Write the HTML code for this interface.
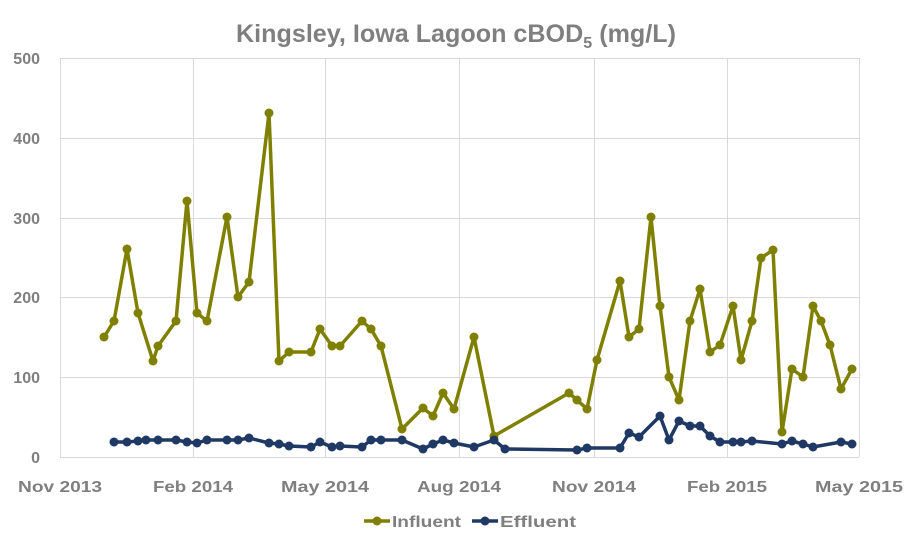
<!DOCTYPE html>
<html><head><meta charset="utf-8"><style>
html,body{margin:0;padding:0;background:#fff;}
svg text{font-family:"Liberation Sans",sans-serif;font-weight:bold;fill:#7f7f7f;}
</style></head><body>
<svg width="912" height="544" viewBox="0 0 912 544" xmlns="http://www.w3.org/2000/svg">
<rect width="912" height="544" fill="#fff"/>
<g stroke="#d9d9d9" stroke-width="1">
<line x1="60" y1="58.5" x2="859" y2="58.5"/>
<line x1="60" y1="138.5" x2="859" y2="138.5"/>
<line x1="60" y1="218.5" x2="859" y2="218.5"/>
<line x1="60" y1="297.5" x2="859" y2="297.5"/>
<line x1="60" y1="377.5" x2="859" y2="377.5"/>
<line x1="60" y1="457.5" x2="859" y2="457.5"/>
<line x1="60.5" y1="58" x2="60.5" y2="457"/>
<line x1="193.5" y1="58" x2="193.5" y2="457"/>
<line x1="325.5" y1="58" x2="325.5" y2="457"/>
<line x1="459.5" y1="58" x2="459.5" y2="457"/>
<line x1="594.5" y1="58" x2="594.5" y2="457"/>
<line x1="727.5" y1="58" x2="727.5" y2="457"/>
<line x1="859.5" y1="58" x2="859.5" y2="457"/>
</g>
<text x="456" y="42" font-size="25" text-anchor="middle" textLength="440" lengthAdjust="spacingAndGlyphs">Kingsley, Iowa Lagoon cBOD<tspan font-size="16" dy="6">5</tspan><tspan dy="-6"> (mg/L)</tspan></text>
<g font-size="16" text-anchor="end">
<text x="40" y="64">500</text><text x="40" y="144">400</text><text x="40" y="224">300</text>
<text x="40" y="303">200</text><text x="40" y="383">100</text><text x="40" y="463">0</text>
</g>
<g font-size="16" text-anchor="middle">
<text x="60" y="492" textLength="84" lengthAdjust="spacingAndGlyphs">Nov 2013</text>
<text x="193" y="492" textLength="80" lengthAdjust="spacingAndGlyphs">Feb 2014</text>
<text x="325" y="492" textLength="88" lengthAdjust="spacingAndGlyphs">May 2014</text>
<text x="459" y="492" textLength="84" lengthAdjust="spacingAndGlyphs">Aug 2014</text>
<text x="594" y="492" textLength="84" lengthAdjust="spacingAndGlyphs">Nov 2014</text>
<text x="727" y="492" textLength="80" lengthAdjust="spacingAndGlyphs">Feb 2015</text>
<text x="859" y="492" textLength="88" lengthAdjust="spacingAndGlyphs">May 2015</text>
</g>
<polyline fill="none" stroke="#808000" stroke-width="3.5" stroke-linejoin="round" points="104,337 114,321 127,249 138,313 153,361 158,346 176,321 187,201 197,313 207,321 227,217 238,297 249,282 269,113 279,361 289,352 311,352 320,329 332,346 340,346 362,321 371,329 381,346 402,429 423,408 433,416 443,393 454,409 474,337 494,436 569,393 577,400 587,409 597,360 620,281 629,337 639,329 651,217 660,306 669,377 679,400 690,321 700,289 710,352 720,345 733,306 741,360 752,321 761,258 773,250 782,432 792,369 803,377 813,306 821,321 830,345 841,389 852,369"/>
<g fill="#808000" id="inf">
<circle cx="104" cy="337" r="4.5"/><circle cx="114" cy="321" r="4.5"/><circle cx="127" cy="249" r="4.5"/><circle cx="138" cy="313" r="4.5"/><circle cx="153" cy="361" r="4.5"/><circle cx="158" cy="346" r="4.5"/><circle cx="176" cy="321" r="4.5"/><circle cx="187" cy="201" r="4.5"/><circle cx="197" cy="313" r="4.5"/><circle cx="207" cy="321" r="4.5"/><circle cx="227" cy="217" r="4.5"/><circle cx="238" cy="297" r="4.5"/><circle cx="249" cy="282" r="4.5"/><circle cx="269" cy="113" r="4.5"/><circle cx="279" cy="361" r="4.5"/><circle cx="289" cy="352" r="4.5"/><circle cx="311" cy="352" r="4.5"/><circle cx="320" cy="329" r="4.5"/><circle cx="332" cy="346" r="4.5"/><circle cx="340" cy="346" r="4.5"/><circle cx="362" cy="321" r="4.5"/><circle cx="371" cy="329" r="4.5"/><circle cx="381" cy="346" r="4.5"/><circle cx="402" cy="429" r="4.5"/><circle cx="423" cy="408" r="4.5"/><circle cx="433" cy="416" r="4.5"/><circle cx="443" cy="393" r="4.5"/><circle cx="454" cy="409" r="4.5"/><circle cx="474" cy="337" r="4.5"/><circle cx="494" cy="436" r="4.5"/><circle cx="569" cy="393" r="4.5"/><circle cx="577" cy="400" r="4.5"/><circle cx="587" cy="409" r="4.5"/><circle cx="597" cy="360" r="4.5"/><circle cx="620" cy="281" r="4.5"/><circle cx="629" cy="337" r="4.5"/><circle cx="639" cy="329" r="4.5"/><circle cx="651" cy="217" r="4.5"/><circle cx="660" cy="306" r="4.5"/><circle cx="669" cy="377" r="4.5"/><circle cx="679" cy="400" r="4.5"/><circle cx="690" cy="321" r="4.5"/><circle cx="700" cy="289" r="4.5"/><circle cx="710" cy="352" r="4.5"/><circle cx="720" cy="345" r="4.5"/><circle cx="733" cy="306" r="4.5"/><circle cx="741" cy="360" r="4.5"/><circle cx="752" cy="321" r="4.5"/><circle cx="761" cy="258" r="4.5"/><circle cx="773" cy="250" r="4.5"/><circle cx="782" cy="432" r="4.5"/><circle cx="792" cy="369" r="4.5"/><circle cx="803" cy="377" r="4.5"/><circle cx="813" cy="306" r="4.5"/><circle cx="821" cy="321" r="4.5"/><circle cx="830" cy="345" r="4.5"/><circle cx="841" cy="389" r="4.5"/><circle cx="852" cy="369" r="4.5"/>
</g>
<polyline fill="none" stroke="#1f3864" stroke-width="3.5" stroke-linejoin="round" points="114,442 127,442 138,441 146,440 158,440 176,440 187,442 197,443 207,440 227,440 238,440 249,438 269,443 279,444 289,446 311,447 320,442 332,447 340,446 362,447 371,440 381,440 402,440 423,449 433,444 443,440 454,443 474,447 494,440 505,449 577,450 587,448 620,448 629,433 639,437 660,416 669,440 679,421 690,426 700,426 710,436 720,442 733,442 741,442 752,441 782,444 792,441 803,444 813,447 841,442 852,444"/>
<g fill="#1f3864">
<circle cx="114" cy="442" r="4.5"/><circle cx="127" cy="442" r="4.5"/><circle cx="138" cy="441" r="4.5"/><circle cx="146" cy="440" r="4.5"/><circle cx="158" cy="440" r="4.5"/><circle cx="176" cy="440" r="4.5"/><circle cx="187" cy="442" r="4.5"/><circle cx="197" cy="443" r="4.5"/><circle cx="207" cy="440" r="4.5"/><circle cx="227" cy="440" r="4.5"/><circle cx="238" cy="440" r="4.5"/><circle cx="249" cy="438" r="4.5"/><circle cx="269" cy="443" r="4.5"/><circle cx="279" cy="444" r="4.5"/><circle cx="289" cy="446" r="4.5"/><circle cx="311" cy="447" r="4.5"/><circle cx="320" cy="442" r="4.5"/><circle cx="332" cy="447" r="4.5"/><circle cx="340" cy="446" r="4.5"/><circle cx="362" cy="447" r="4.5"/><circle cx="371" cy="440" r="4.5"/><circle cx="381" cy="440" r="4.5"/><circle cx="402" cy="440" r="4.5"/><circle cx="423" cy="449" r="4.5"/><circle cx="433" cy="444" r="4.5"/><circle cx="443" cy="440" r="4.5"/><circle cx="454" cy="443" r="4.5"/><circle cx="474" cy="447" r="4.5"/><circle cx="494" cy="440" r="4.5"/><circle cx="505" cy="449" r="4.5"/><circle cx="577" cy="450" r="4.5"/><circle cx="587" cy="448" r="4.5"/><circle cx="620" cy="448" r="4.5"/><circle cx="629" cy="433" r="4.5"/><circle cx="639" cy="437" r="4.5"/><circle cx="660" cy="416" r="4.5"/><circle cx="669" cy="440" r="4.5"/><circle cx="679" cy="421" r="4.5"/><circle cx="690" cy="426" r="4.5"/><circle cx="700" cy="426" r="4.5"/><circle cx="710" cy="436" r="4.5"/><circle cx="720" cy="442" r="4.5"/><circle cx="733" cy="442" r="4.5"/><circle cx="741" cy="442" r="4.5"/><circle cx="752" cy="441" r="4.5"/><circle cx="782" cy="444" r="4.5"/><circle cx="792" cy="441" r="4.5"/><circle cx="803" cy="444" r="4.5"/><circle cx="813" cy="447" r="4.5"/><circle cx="841" cy="442" r="4.5"/><circle cx="852" cy="444" r="4.5"/>
</g>
<line x1="364" y1="521" x2="390" y2="521" stroke="#808000" stroke-width="3.5"/>
<circle cx="377" cy="521" r="4.5" fill="#808000"/>
<text x="392" y="527" font-size="16" textLength="69" lengthAdjust="spacingAndGlyphs">Influent</text>
<line x1="472" y1="521" x2="498" y2="521" stroke="#1f3864" stroke-width="3.5"/>
<circle cx="485" cy="521" r="4.5" fill="#1f3864"/>
<text x="500" y="527" font-size="16" textLength="76" lengthAdjust="spacingAndGlyphs">Effluent</text>
</svg>
</body></html>
